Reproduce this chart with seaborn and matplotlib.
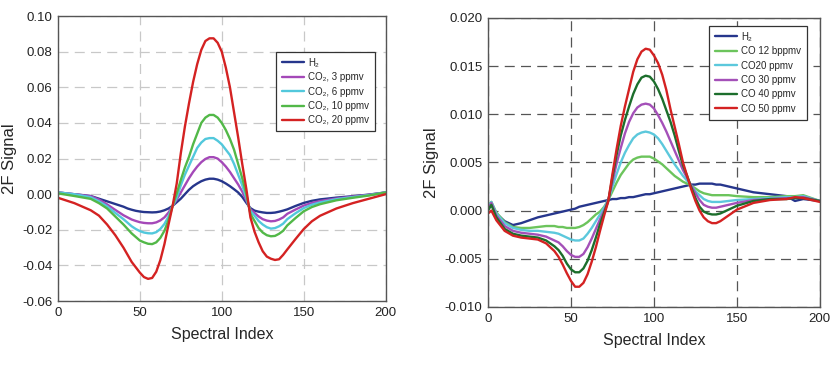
import numpy as np
import pandas as pd
import seaborn as sns
import matplotlib
matplotlib.use("Agg")
import matplotlib.pyplot as plt

# ---- Left panel: H2 and CO2 2F spectra ----
x_left = [0, 10, 20, 25, 30, 35,
          40, 42.5, 45, 47.5, 50, 52.5, 55, 57.5, 60, 62.5, 65, 67.5, 70,
          72.5, 75, 77.5, 80, 82.5, 85, 87.5, 90, 92.5, 95, 97.5, 100,
          102.5, 105, 107.5, 110, 112.5, 115, 117.5, 120, 122.5, 125, 127.5, 130, 132.5, 135, 137.5, 140,
          145, 150, 155, 160, 170, 180, 190, 200]
h2_left = [0.001, 0.000, -0.001, -0.0025, -0.004, -0.0055,
           -0.007, -0.008, -0.0087, -0.0093, -0.0097, -0.010, -0.0101, -0.0102, -0.0101, -0.0097, -0.009, -0.008, -0.0065,
           -0.0045, -0.0025, 0.000, 0.0025, 0.0045, 0.006, 0.0073, 0.0082, 0.0087, 0.0087, 0.0082, 0.0073,
           0.006, 0.0045, 0.0028, 0.001, -0.0015, -0.0048, -0.0078, -0.0092, -0.0098, -0.0102, -0.0105, -0.0105, -0.0103, -0.0098, -0.0092, -0.0085,
           -0.0066, -0.0049, -0.0037, -0.0029, -0.0019, -0.0011, -0.0002, 0.001]
co2_3 = [0.001, 0.000, -0.0011, -0.003, -0.0057, -0.0088,
         -0.0118, -0.013, -0.0142, -0.015, -0.0157, -0.0161, -0.0163, -0.0163, -0.0158, -0.0147, -0.013, -0.0103, -0.0065,
         -0.003, 0.001, 0.005, 0.009, 0.0125, 0.0155, 0.018, 0.0198, 0.0208, 0.0208, 0.020, 0.018,
         0.0155, 0.0125, 0.009, 0.0055, 0.0015, -0.0035, -0.0085, -0.0105, -0.0125, -0.014, -0.0148, -0.0152, -0.015, -0.0142, -0.013, -0.011,
         -0.0086, -0.0064, -0.0049, -0.0038, -0.0024, -0.0013, -0.0003, 0.001]
co2_6 = [0.001, 0.000, -0.0017, -0.004, -0.0068, -0.0105,
         -0.014, -0.016, -0.018, -0.0195, -0.0207, -0.0215, -0.0219, -0.022, -0.0213, -0.0195, -0.0167, -0.0125, -0.0065,
         -0.002, 0.005, 0.011, 0.016, 0.021, 0.026, 0.029, 0.031, 0.0315, 0.0315, 0.030, 0.028,
         0.025, 0.022, 0.017, 0.011, 0.005, -0.002, -0.0095, -0.012, -0.015, -0.017, -0.0185, -0.0193, -0.019, -0.018, -0.0165, -0.014,
         -0.0107, -0.0078, -0.0059, -0.0046, -0.0028, -0.0016, -0.0005, 0.001]
co2_10 = [0.0005, -0.001, -0.0026, -0.005, -0.008, -0.0125,
          -0.017, -0.0195, -0.022, -0.024, -0.026, -0.027, -0.0278, -0.028, -0.027, -0.0245, -0.0205, -0.0145, -0.0065,
          0.0005, 0.008, 0.015, 0.021, 0.028, 0.034, 0.040, 0.043, 0.0445, 0.0445, 0.043, 0.040,
          0.036, 0.031, 0.025, 0.017, 0.009, 0.000, -0.011, -0.015, -0.019, -0.0215, -0.023, -0.0236, -0.0234, -0.0222, -0.0205, -0.0175,
          -0.0134, -0.0096, -0.0072, -0.0056, -0.0034, -0.002, -0.0007, 0.001]
co2_20 = [-0.002, -0.005, -0.009, -0.012, -0.017, -0.023,
          -0.030, -0.034, -0.038, -0.041, -0.044, -0.0465, -0.0475, -0.047, -0.0435, -0.037, -0.028, -0.017, -0.0065,
          0.006, 0.023, 0.038, 0.051, 0.063, 0.073, 0.081, 0.086, 0.0875, 0.0875, 0.085, 0.080,
          0.071, 0.060, 0.046, 0.032, 0.017, 0.003, -0.013, -0.021, -0.027, -0.032, -0.035, -0.0362, -0.0369, -0.0365, -0.034, -0.031,
          -0.0252, -0.0196, -0.0152, -0.0121, -0.0080, -0.0050, -0.0025, 0.000]
labels_left = ["H₂", "CO₂, 3 ppmv", "CO₂, 6 ppmv", "CO₂, 10 ppmv", "CO₂, 20 ppmv"]
colors_left = ["#26368c", "#a448b8", "#52c8dc", "#52b848", "#d42222"]

# ---- Right panel: H2 and CO 2F spectra ----
x_right = [0, 2, 5, 10, 15, 20, 25, 30, 35,
           40, 42.5, 45, 47.5, 50, 52.5, 55, 57.5, 60, 62.5, 65, 67.5, 70,
           72.5, 75, 77.5, 80, 82.5, 85, 87.5, 90, 92.5, 95, 97.5, 100,
           102.5, 105, 107.5, 110, 112.5, 115, 117.5, 120, 122.5, 125, 127.5, 130, 132.5, 135, 137.5, 140,
           145, 150, 160, 170, 180, 185, 190, 200]
h2_right = [0.0006, 0.0007, -0.0003, -0.0011, -0.0015, -0.0013, -0.0010, -0.0007, -0.0005,
            -0.0003, -0.0002, -0.0001, 0.0000, 0.0001, 0.0002, 0.0004, 0.0005, 0.0006, 0.0007, 0.0008, 0.0009, 0.0010,
            0.0011, 0.0012, 0.0012, 0.0013, 0.0013, 0.0014, 0.0014, 0.0015, 0.0016, 0.0017, 0.0017, 0.0018,
            0.0019, 0.0020, 0.0021, 0.0022, 0.0023, 0.0024, 0.0025, 0.0026, 0.0027, 0.0027, 0.0028, 0.0028, 0.0028, 0.0028, 0.0027, 0.0027,
            0.0025, 0.0023, 0.0019, 0.0017, 0.0015, 0.0010, 0.0012, 0.0010]
co_12 = [0.0005, 0.0009, -0.0002, -0.0012, -0.0017, -0.0018, -0.0018, -0.0017, -0.0016,
         -0.0016, -0.0017, -0.0017, -0.0018, -0.0018, -0.0018, -0.0017, -0.0015, -0.0012, -0.0008, -0.0004, -0.0001, 0.0004,
         0.0011, 0.0020, 0.0029, 0.0037, 0.0043, 0.0049, 0.0053, 0.0055, 0.0056, 0.0056, 0.0056, 0.0054,
         0.0051, 0.0048, 0.0044, 0.0040, 0.0036, 0.0033, 0.0030, 0.0028, 0.0026, 0.0023, 0.0020, 0.0018, 0.0017, 0.0016, 0.0016, 0.0016,
         0.0016, 0.0015, 0.0014, 0.0014, 0.0015, 0.0015, 0.0016, 0.0010]
co_20 = [0.0004, 0.0009, -0.0003, -0.0013, -0.0018, -0.0020, -0.0021, -0.0021, -0.0022,
         -0.0023, -0.0024, -0.0026, -0.0028, -0.0030, -0.0031, -0.0031, -0.0029, -0.0024, -0.0018, -0.0011, -0.0004, 0.0003,
         0.0011, 0.0025, 0.0038, 0.0050, 0.0060, 0.0068, 0.0075, 0.0079, 0.0081, 0.0082, 0.0081, 0.0079,
         0.0075, 0.0069, 0.0062, 0.0055, 0.0048, 0.0042, 0.0036, 0.0031, 0.0026, 0.0020, 0.0016, 0.0012, 0.0010, 0.0009, 0.0009, 0.0009,
         0.0010, 0.0011, 0.0012, 0.0013, 0.0014, 0.0014, 0.0015, 0.0010]
co_30 = [0.0002, 0.0008, -0.0005, -0.0016, -0.0021, -0.0023, -0.0024, -0.0025, -0.0027,
         -0.0031, -0.0033, -0.0037, -0.0042, -0.0046, -0.0048, -0.0048, -0.0045, -0.0038, -0.0029, -0.0019, -0.0009, 0.0000,
         0.0011, 0.0030, 0.0049, 0.0065, 0.0080, 0.0092, 0.0101, 0.0107, 0.0110, 0.0111, 0.0110, 0.0106,
         0.0099, 0.0091, 0.0082, 0.0072, 0.0062, 0.0052, 0.0042, 0.0034, 0.0026, 0.0018, 0.0011, 0.0006, 0.0004, 0.0003, 0.0003, 0.0004,
         0.0006, 0.0008, 0.0011, 0.0012, 0.0013, 0.0013, 0.0014, 0.0010]
co_40 = [0.0000, 0.0006, -0.0007, -0.0019, -0.0024, -0.0026, -0.0027, -0.0028, -0.0031,
         -0.0037, -0.0041, -0.0047, -0.0055, -0.0061, -0.0064, -0.0064, -0.0060, -0.0052, -0.0041, -0.0028, -0.0014, -0.0002,
         0.0010, 0.0035, 0.0058, 0.0078, 0.0094, 0.0108, 0.0121, 0.0131, 0.0138, 0.0140, 0.0139, 0.0134,
         0.0126, 0.0116, 0.0104, 0.0092, 0.0078, 0.0062, 0.0047, 0.0036, 0.0024, 0.0013, 0.0004, -0.0001, -0.0003, -0.0004, -0.0004, -0.0003,
         0.0001, 0.0005, 0.0010, 0.0012, 0.0012, 0.0013, 0.0013, 0.0010]
co_50 = [-0.0003, 0.0000, -0.0010, -0.0021, -0.0026, -0.0028, -0.0029, -0.0030, -0.0034,
         -0.0042, -0.0048, -0.0056, -0.0065, -0.0073, -0.0079, -0.0079, -0.0075, -0.0066, -0.0053, -0.0038, -0.0021, -0.0005,
         0.0010, 0.0038, 0.0064, 0.0088, 0.0108, 0.0126, 0.0144, 0.0157, 0.0165, 0.0168, 0.0167, 0.0161,
         0.0153, 0.0141, 0.0125, 0.0105, 0.0087, 0.0069, 0.0050, 0.0036, 0.0022, 0.0010, 0.0000, -0.0007, -0.0011, -0.0013, -0.0013, -0.0011,
         -0.0005, 0.0001, 0.0008, 0.0011, 0.0012, 0.0014, 0.0013, 0.0009]
labels_right = ["H₂", "CO 12 bppmv", "CO20 ppmv", "CO 30 ppmv", "CO 40 ppmv", "CO 50 ppmv"]
colors_right = ["#26368c", "#6cc45c", "#5cc8dc", "#a450b8", "#1c6e2c", "#d42222"]

sns.set_style("white")
plt.rcParams["font.family"] = ["Liberation Sans", "DejaVu Sans"]


def long_frame(x, series, labels):
    rows = []
    for vals, lab in zip(series, labels):
        assert len(vals) == len(x), lab
        for xi, yi in zip(x, vals):
            rows.append({"x": xi, "y": yi, "series": lab})
    return pd.DataFrame(rows)


df_left = long_frame(x_left, [h2_left, co2_3, co2_6, co2_10, co2_20], labels_left)
df_right = long_frame(x_right, [h2_right, co_12, co_20, co_30, co_40, co_50], labels_right)

fig = plt.figure(figsize=(8.4, 3.65), dpi=100)
ax1 = fig.add_axes([0.069, 0.175, 0.390, 0.781])
ax2 = fig.add_axes([0.581, 0.159, 0.395, 0.792])


def style_axis(ax, ylim, yticks, yfmt, grid_color, legend_anchor):
    ax.set_xlim(0, 200)
    ax.set_ylim(*ylim)
    ax.set_xticks([0, 50, 100, 150, 200])
    ax.set_yticks(yticks)
    ax.set_yticklabels([yfmt.format(t) for t in yticks])
    ax.grid(True, color=grid_color, linestyle=(0, (8, 5)), linewidth=0.9)
    ax.set_axisbelow(True)
    for sp in ax.spines.values():
        sp.set_color("#555555")
        sp.set_linewidth(1.0)
    ax.tick_params(axis="both", labelsize=9.5, colors="#222222", length=0, pad=4)
    ax.set_xlabel("Spectral Index", fontsize=11.5, labelpad=6)
    ax.set_ylabel("2F Signal", fontsize=12, labelpad=4)
    handles, labels = ax.get_legend_handles_labels()
    leg = ax.legend(handles, labels, loc="upper left", bbox_to_anchor=legend_anchor,
                    fontsize=7, frameon=True, fancybox=False, edgecolor="#333333",
                    framealpha=1, handlelength=2.3, handletextpad=0.4,
                    labelspacing=0.45, borderpad=0.6, borderaxespad=0)
    leg.get_frame().set_linewidth(0.9)


sns.lineplot(data=df_left, x="x", y="y", hue="series", palette=colors_left,
             hue_order=labels_left, sort=False, linewidth=1.7, ax=ax1)
style_axis(ax1, (-0.06, 0.10), [-0.06, -0.04, -0.02, 0.0, 0.02, 0.04, 0.06, 0.08, 0.10],
           "{:.2f}", "#c8c8c8", (0.665, 0.874))

sns.lineplot(data=df_right, x="x", y="y", hue="series", palette=colors_right,
             hue_order=labels_right, sort=False, linewidth=1.7, ax=ax2)
style_axis(ax2, (-0.010, 0.020), [-0.010, -0.005, 0.0, 0.005, 0.010, 0.015, 0.020],
           "{:.3f}", "#555555", (0.666, 0.972))

fig.savefig("out.png", dpi=100)
